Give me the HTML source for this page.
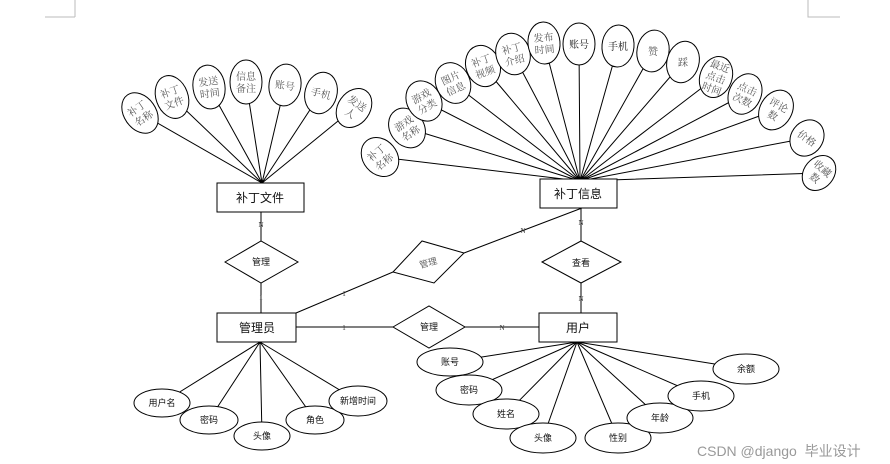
<!DOCTYPE html>
<html><head><meta charset="utf-8"><style>
html,body{margin:0;padding:0;background:#fff;}
svg{display:block;}
.a{font-family:"Liberation Serif","Noto Serif CJK SC",serif;font-size:10px;fill:#555;text-anchor:middle;}
.b{font-family:"Liberation Sans","Noto Sans CJK SC",sans-serif;font-size:9px;fill:#111;text-anchor:middle;}
.e{font-family:"Liberation Sans","Noto Sans CJK SC",sans-serif;font-size:12px;fill:#111;text-anchor:middle;}
.s{font-family:"Liberation Serif",serif;font-size:7px;fill:#333;text-anchor:middle;}
</style></head><body>
<svg width="890" height="464" viewBox="0 0 890 464" xmlns="http://www.w3.org/2000/svg">
<g stroke="#000" stroke-width="1" fill="none">
<path d="M45 17H75M75 0V17" stroke="#bbb"/>
<path d="M808 0V17H840" stroke="#bbb"/>
<!-- left fan -->
<path d="M262 183L140 113M262 183L172 97M262 183L209 87M262 183L246 82M262 183L285 85M262 183L321 93M262 183L354 108"/>
<!-- right fan -->
<path d="M580 181L380 157M580 181L407 128M580 181L424 101M580 181L453 83M580 181L483 66M580 181L513 54M580 181L544 43M580 181L579 44M580 181L618 46M580 181L653 51M580 181L683 62M580 181L716 77M580 181L745 94M580 181L776 110M580 181L807 138M580 181L819 173"/>
<!-- bottom fans -->
<path d="M260 342L162 403M260 342L209 420M260 342L262 436M260 342L315 420M260 342L358 401"/>
<path d="M577 342L450 362M577 342L469 390M577 342L506 414M577 342L543 438M577 342L618 438M577 342L660 418M577 342L701 396M577 342L746 369"/>
<!-- relations -->
<path d="M261 212V241M261 283V313M581 208V241M581 283V314M296 313L393 272M464 253L582 208M296 327H393M465 327H539"/>
</g>
<g stroke="#000" fill="#fff">
<rect x="217" y="183" width="87" height="29"/>
<rect x="540" y="179" width="77" height="29"/>
<rect x="217" y="313" width="79" height="29"/>
<rect x="539" y="313" width="78" height="29"/>
<polygon points="225,262 261,241 298,262 261,283"/>
<polygon points="393,272 422,241 464,253 434,283"/>
<polygon points="542,262 581,241 621,262 581,283"/>
<polygon points="393,327 429,306 465,327 429,348"/>
</g>
<g class="e"><text x="260" y="202">补丁文件</text><text x="578" y="198">补丁信息</text><text x="257" y="332">管理员</text><text x="578" y="332">用户</text></g>
<g class="b"><text x="261" y="265">管理</text><text x="428" y="266" transform="rotate(-15 428 262)" fill="#666">管理</text><text x="581" y="266">查看</text><text x="429" y="330">管理</text></g>
<g class="s"><text x="261" y="227">N</text><text x="261" y="300">1</text><text x="581" y="225">N</text><text x="581" y="301">N</text><text x="344" y="296">1</text><text x="523" y="233">N</text><text x="344" y="330">1</text><text x="502" y="330">N</text></g>
<!-- ellipses with labels -->
<g stroke="#000" fill="#fff">
<ellipse cx="140" cy="113" rx="16" ry="22" transform="rotate(-35 140 113)"/>
<ellipse cx="172" cy="97" rx="16" ry="22" transform="rotate(-20 172 97)"/>
<ellipse cx="209" cy="87" rx="16" ry="22" transform="rotate(-8 209 87)"/>
<ellipse cx="246" cy="82" rx="16" ry="22"/>
<ellipse cx="285" cy="85" rx="16" ry="21" transform="rotate(8 285 85)"/>
<ellipse cx="321" cy="93" rx="16" ry="21" transform="rotate(15 321 93)"/>
<ellipse cx="354" cy="108" rx="16" ry="21" transform="rotate(35 354 108)"/>
<ellipse cx="380" cy="157" rx="17" ry="21" transform="rotate(-40 380 157)"/>
<ellipse cx="407" cy="128" rx="17" ry="21" transform="rotate(-35 407 128)"/>
<ellipse cx="424" cy="101" rx="17" ry="21" transform="rotate(-30 424 101)"/>
<ellipse cx="453" cy="83" rx="17" ry="21" transform="rotate(-25 453 83)"/>
<ellipse cx="483" cy="66" rx="17" ry="21" transform="rotate(-20 483 66)"/>
<ellipse cx="513" cy="54" rx="17" ry="21" transform="rotate(-15 513 54)"/>
<ellipse cx="544" cy="43" rx="16" ry="21" transform="rotate(-5 544 43)"/>
<ellipse cx="579" cy="44" rx="16" ry="21"/>
<ellipse cx="618" cy="46" rx="16" ry="21" transform="rotate(5 618 46)"/>
<ellipse cx="653" cy="51" rx="16" ry="21" transform="rotate(10 653 51)"/>
<ellipse cx="683" cy="62" rx="16" ry="21" transform="rotate(15 683 62)"/>
<ellipse cx="716" cy="77" rx="16" ry="21" transform="rotate(20 716 77)"/>
<ellipse cx="745" cy="94" rx="16" ry="21" transform="rotate(25 745 94)"/>
<ellipse cx="776" cy="110" rx="16" ry="21" transform="rotate(30 776 110)"/>
<ellipse cx="807" cy="138" rx="16" ry="19" transform="rotate(35 807 138)"/>
<ellipse cx="819" cy="173" rx="15" ry="19" transform="rotate(40 819 173)"/>
<ellipse cx="162" cy="403" rx="28" ry="14"/>
<ellipse cx="209" cy="420" rx="29" ry="14"/>
<ellipse cx="262" cy="436" rx="28" ry="14"/>
<ellipse cx="315" cy="420" rx="29" ry="14"/>
<ellipse cx="358" cy="401" rx="29" ry="15"/>
<ellipse cx="450" cy="362" rx="33" ry="14"/>
<ellipse cx="469" cy="390" rx="33" ry="15"/>
<ellipse cx="506" cy="414" rx="33" ry="15"/>
<ellipse cx="543" cy="438" rx="33" ry="15"/>
<ellipse cx="618" cy="438" rx="33" ry="15"/>
<ellipse cx="660" cy="418" rx="33" ry="15"/>
<ellipse cx="701" cy="396" rx="33" ry="15"/>
<ellipse cx="746" cy="369" rx="33" ry="15"/>
</g>
<g class="a">
<text transform="rotate(-35 140 113)"><tspan x="140" y="111">补丁</tspan><tspan x="140" y="123">名称</tspan></text>
<text transform="rotate(-20 172 97)"><tspan x="172" y="95">补丁</tspan><tspan x="172" y="107">文件</tspan></text>
<text transform="rotate(-8 209 87)"><tspan x="209" y="85">发送</tspan><tspan x="209" y="97">时间</tspan></text>
<text><tspan x="246" y="80">信息</tspan><tspan x="246" y="92">备注</tspan></text>
<text x="285" y="89" transform="rotate(8 285 85)">账号</text>
<text x="321" y="97" transform="rotate(15 321 93)">手机</text>
<text transform="rotate(35 354 108)"><tspan x="354" y="106">发送</tspan><tspan x="354" y="118">人</tspan></text>
<text transform="rotate(-40 380 157)"><tspan x="380" y="155">补丁</tspan><tspan x="380" y="167">名称</tspan></text>
<text transform="rotate(-35 407 128)"><tspan x="407" y="126">游戏</tspan><tspan x="407" y="138">名称</tspan></text>
<text transform="rotate(-30 424 101)"><tspan x="424" y="99">游戏</tspan><tspan x="424" y="111">分类</tspan></text>
<text transform="rotate(-25 453 83)"><tspan x="453" y="81">图片</tspan><tspan x="453" y="93">信息</tspan></text>
<text transform="rotate(-20 483 66)"><tspan x="483" y="64">补丁</tspan><tspan x="483" y="76">视频</tspan></text>
<text transform="rotate(-15 513 54)"><tspan x="513" y="52">补丁</tspan><tspan x="513" y="64">介绍</tspan></text>
<text transform="rotate(-5 544 43)"><tspan x="544" y="41">发布</tspan><tspan x="544" y="53">时间</tspan></text>
<text x="579" y="48" fill="#111">账号</text>
<text x="618" y="50" fill="#111">手机</text>
<text x="653" y="55">赞</text>
<text x="683" y="66">踩</text>
<text transform="rotate(20 716 77)"><tspan x="716" y="69">最近</tspan><tspan x="716" y="81">点击</tspan><tspan x="716" y="93">时间</tspan></text>
<text transform="rotate(25 745 94)"><tspan x="745" y="92">点击</tspan><tspan x="745" y="104">次数</tspan></text>
<text transform="rotate(30 776 110)"><tspan x="776" y="108">评论</tspan><tspan x="776" y="120">数</tspan></text>
<text x="807" y="142" transform="rotate(35 807 138)">价格</text>
<text transform="rotate(40 819 173)"><tspan x="819" y="171">收藏</tspan><tspan x="819" y="183">数</tspan></text>
</g>
<g class="b">
<text x="162" y="406">用户名</text><text x="209" y="423">密码</text><text x="262" y="439">头像</text><text x="315" y="423">角色</text><text x="358" y="404">新增时间</text>
<text x="450" y="365">账号</text><text x="469" y="393">密码</text><text x="506" y="417">姓名</text><text x="543" y="441">头像</text><text x="618" y="441">性别</text><text x="660" y="421">年龄</text><text x="701" y="399">手机</text><text x="746" y="372">余额</text>
</g>
<text x="697" y="456" font-family="Liberation Sans,Noto Sans CJK SC,sans-serif" font-size="14" fill="#999">CSDN @django&#160;&#160;毕业设计</text>
</svg>
</body></html>
